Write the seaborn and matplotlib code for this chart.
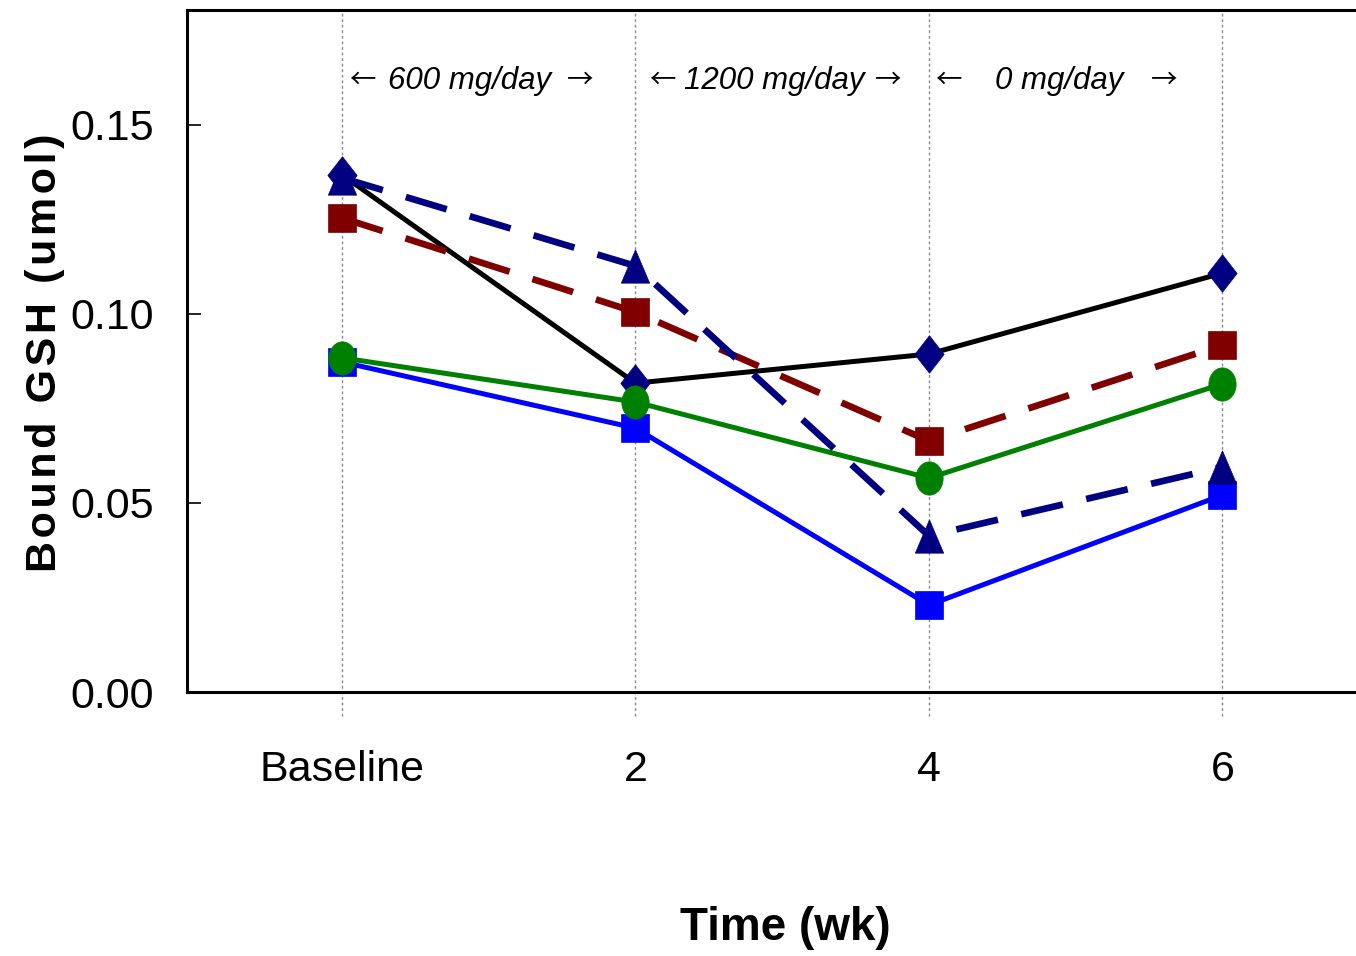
import numpy as np
import pandas as pd
import matplotlib
matplotlib.use("Agg")
import matplotlib.pyplot as plt
import seaborn as sns

# ---- data ----
categories = ["Baseline", "2", "4", "6"]
black_diamond = [0.1368, 0.0817, 0.0894, 0.1108]
maroon_square = [0.1254, 0.1005, 0.0664, 0.0918]
navy_triangle = [0.1360, 0.1127, 0.0413, 0.0595]
green_circle = [0.0884, 0.0767, 0.0566, 0.0815]
blue_square = [0.0873, 0.0698, 0.0230, 0.0521]
y_ticks = [0.00, 0.05, 0.10, 0.15]
y_tick_labels = ["0.00", "0.05", "0.10", "0.15"]
dose_labels = ["600 mg/day", "1200 mg/day", "0 mg/day"]

sns.set_theme(style="white")
plt.rcParams["font.family"] = ["Liberation Sans", "DejaVu Sans"]
for k in ["text.color", "axes.labelcolor", "xtick.color", "ytick.color"]:
    plt.rcParams[k] = "black"

fig = plt.figure(figsize=(13.56, 9.56), dpi=100)
ax = fig.add_axes([187 / 1356, 1 - 692 / 956, 1 - 187 / 1356, 682 / 956])

pos = np.arange(len(categories))

# marker shapes
diamond = [(0, 1), (0.78, 0), (0, -1), (-0.78, 0), (0, 1)]
t = np.linspace(0, 2 * np.pi, 60)
ellipse = list(zip(0.82 * np.cos(t), np.sin(t)))
triangle = [(0, 1), (0.85, -1), (-0.85, -1), (0, 1)]

dash = (0, (6.4, 3.6))

series = [
    dict(y=black_diamond, color="black", lw=3.6, ls="-", marker=diamond, ms=27, mc="#000080"),
    dict(y=blue_square, color="#0000FF", lw=3.6, ls="-", marker="s", ms=19.5, mc="#0000FF"),
    dict(y=green_circle, color="#008000", lw=3.6, ls="-", marker=ellipse, ms=24, mc="#008000"),
    dict(y=maroon_square, color="#800000", lw=4.8, ls=dash, marker="s", ms=19.5, mc="#800000"),
    dict(y=navy_triangle, color="#000080", lw=4.8, ls=dash, marker=triangle, ms=24, mc="#000080"),
]
for s in series:
    sns.lineplot(x=pos, y=s["y"], ax=ax, color=s["color"], linewidth=s["lw"],
                 linestyle=s["ls"], marker=s["marker"], markersize=s["ms"],
                 markerfacecolor=s["mc"], markeredgecolor=s["mc"],
                 markeredgewidth=0.5, errorbar=None, legend=False, clip_on=False)

ax.set_xlim(-0.528, 3.455)
ax.set_ylim(0, 0.1804)

# vertical dotted guides (extending below the axis)
for p in pos:
    ax.axvline(p, ymin=-0.035, ymax=1, color="#8a8a8a", lw=1.0,
               linestyle=(0, (2, 2)), clip_on=False, zorder=0)

ax.set_xticks(pos, labels=categories)
ax.set_yticks(y_ticks, labels=y_tick_labels)
ax.tick_params(axis="x", length=0, pad=42, labelsize=31)
ax.tick_params(axis="y", direction="in", length=10, width=1.2, color="black",
               pad=24, labelsize=31, left=True)

for side in ["left", "bottom", "top"]:
    ax.spines[side].set_visible(True)
    ax.spines[side].set_color("black")
    ax.spines[side].set_linewidth(2.2)
ax.spines["right"].set_visible(False)

hair = "\u200a"
ylab = hair.join("Bound GSH (umol)")
ax.set_ylabel(ylab, fontsize=31, fontweight="bold", labelpad=0)
ax.yaxis.set_label_coords(-0.104, 0.497)
ax.set_xlabel("Time (wk)", fontsize=33, fontweight="bold")
ax.xaxis.set_label_coords(0.5115, -0.314)
ax.xaxis.label.set_verticalalignment("top")

# dose annotations
y_ann = 0.1617
label_x = [0.436, 1.472, 2.443]
left_arrow_x = [0.068, 1.090, 2.065]
right_arrow_x = [0.811, 1.860, 2.801]
arrow_font = ["Noto Sans CJK SC", "DejaVu Sans"]
for lx, la, ra, txt in zip(label_x, left_arrow_x, right_arrow_x, dose_labels):
    ax.text(lx, y_ann, txt, ha="center", va="center", fontsize=22.5, style="italic")
    ax.text(la, y_ann, "\u2190", ha="center", va="center", fontsize=19, family=arrow_font)
    ax.text(ra, y_ann, "\u2192", ha="center", va="center", fontsize=19, family=arrow_font)

fig.savefig("out.png", dpi=100, facecolor="white")
